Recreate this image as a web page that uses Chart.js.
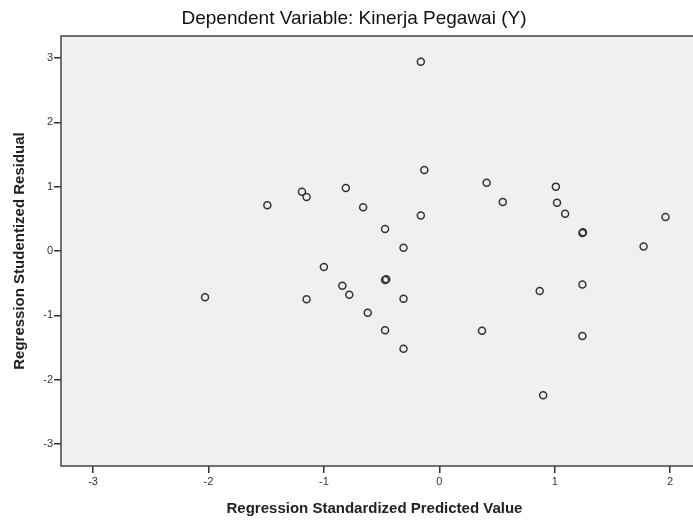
<!DOCTYPE html>
<html lang="id">
<head>
  <meta charset="UTF-8" />
  <title>Scatterplot - Kinerja Pegawai (Y)</title>
  <script src="https://cdn.jsdelivr.net/npm/chart.js"></script>
  <style>
    body {
      margin: 0;
      background: #fff;
    }
    #wrap {
      width: 693px;
      height: 520px;
    }
  </style>
</head>
<body>
  <div id="wrap"><canvas id="scatter" width="693" height="520"></canvas></div>

  <script>
    // standardized predicted value (x) and studentized residual (y)
    const predicted = [
      -2.03, -1.49, -1.19, -1.15, -1.15, -1.00, -0.84, -0.81, -0.78, -0.66,
      -0.62, -0.47, -0.47, -0.46, -0.47, -0.31, -0.31, -0.31, -0.16, -0.16,
      -0.13, 0.37, 0.41, 0.55, 0.87, 0.90, 1.01, 1.02, 1.09, 1.24,
      1.245, 1.24, 1.24, 1.77, 1.96
    ];
    const residual = [
      -0.72, 0.71, 0.92, 0.84, -0.75, -0.25, -0.54, 0.98, -0.68, 0.68,
      -0.96, 0.34, -0.45, -0.44, -1.23, 0.05, -0.74, -1.52, 2.94, 0.55,
      1.26, -1.24, 1.06, 0.76, -0.62, -2.24, 1.00, 0.75, 0.58, 0.28,
      0.29, -0.52, -1.32, 0.07, 0.53
    ];
    const xTicks = [-3, -2, -1, 0, 1, 2];
    const yTicks = [-3, -2, -1, 0, 1, 2, 3];

    const points = predicted.map((x, i) => ({ x: x, y: residual[i] }));

    // grey plot area with a frame, SPSS style
    const plotFrame = {
      id: 'plotFrame',
      beforeDatasetsDraw(chart) {
        const { ctx, chartArea } = chart;
        ctx.save();
        ctx.fillStyle = '#f0f0f0';
        ctx.fillRect(chartArea.left, chartArea.top, chartArea.width + 5, chartArea.height);
        ctx.strokeStyle = '#444';
        ctx.lineWidth = 1.5;
        ctx.strokeRect(chartArea.left, chartArea.top, chartArea.width + 10, chartArea.height);
        ctx.restore();
      }
    };

    const topTitle = {
      id: 'topTitle',
      afterDraw(chart) {
        const ctx = chart.ctx;
        ctx.save();
        ctx.font = '19px Arial, "Liberation Sans", sans-serif';
        ctx.fillStyle = '#111';
        ctx.textAlign = 'center';
        ctx.textBaseline = 'middle';
        ctx.fillText('Dependent Variable: Kinerja Pegawai (Y)', 354, 19);
        ctx.restore();
      }
    };

    const tickFont = { family: 'Arial, "Liberation Sans", sans-serif', size: 11 };
    const titleFont = { family: 'Arial, "Liberation Sans", sans-serif', size: 15, weight: 'bold', lineHeight: 1.2 };

    new Chart(document.getElementById('scatter'), {
      type: 'scatter',
      data: {
        datasets: [{
          data: points,
          pointStyle: 'circle',
          pointRadius: 3.5,
          pointHoverRadius: 3.5,
          borderWidth: 1.5,
          borderColor: '#333',
          backgroundColor: 'rgba(0,0,0,0)'
        }]
      },
      options: {
        responsive: false,
        animation: false,
        layout: { padding: { top: 36, right: 0, left: 0, bottom: 0 } },
        plugins: {
          legend: { display: false },
          tooltip: { enabled: false }
        },
        scales: {
          x: {
            type: 'linear',
            min: -3.278,
            max: 2.155,
            afterBuildTicks: (axis) => { axis.ticks = xTicks.map(v => ({ value: v })); },
            afterFit: (axis) => { axis.height = 54; },
            ticks: { font: tickFont, color: '#333', padding: 2 },
            grid: { drawOnChartArea: false, drawTicks: true, tickLength: 7, color: '#333', lineWidth: 1.5 },
            border: { display: false },
            title: {
              display: true,
              text: 'Regression Standardized Predicted Value',
              font: titleFont,
              color: '#222',
              padding: { top: 0, bottom: 2 }
            }
          },
          y: {
            type: 'linear',
            min: -3.34,
            max: 3.34,
            afterBuildTicks: (axis) => { axis.ticks = yTicks.map(v => ({ value: v })); },
            afterFit: (axis) => { axis.width = 61; },
            ticks: { font: tickFont, color: '#333', padding: 1 },
            grid: { drawOnChartArea: false, drawTicks: true, tickLength: 7, color: '#333', lineWidth: 1.5 },
            border: { display: false },
            title: {
              display: true,
              text: 'Regression Studentized Residual',
              font: titleFont,
              color: '#222',
              padding: { top: 11, bottom: 0 }
            }
          }
        }
      },
      plugins: [plotFrame, topTitle]
    });
  </script>
</body>
</html>
